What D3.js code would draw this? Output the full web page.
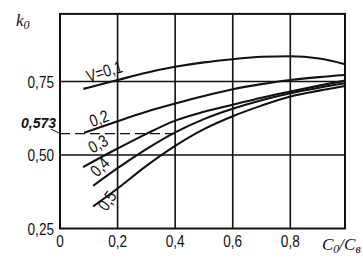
<!DOCTYPE html>
<html><head><meta charset="utf-8">
<script src="https://cdn.jsdelivr.net/npm/d3@7"></script>
<style>
html,body{margin:0;padding:0;background:#fff;}
svg{display:block;}
text{fill:#111;}
</style></head>
<body>
<svg id="c" width="363" height="258"></svg>
<script>
// ---- data ----
const xs1 = [0.081, 0.2, 0.3, 0.4, 0.5, 0.6, 0.7, 0.8, 0.9, 0.99];
const v01 = [0.725, 0.755, 0.780, 0.800, 0.815, 0.826, 0.834, 0.836, 0.828, 0.809];
const xs2 = [0.084, 0.2, 0.3, 0.4, 0.5, 0.6, 0.7, 0.8, 0.9, 0.99];
const v02 = [0.576, 0.615, 0.647, 0.675, 0.701, 0.724, 0.741, 0.755, 0.765, 0.772];
const xs3 = [0.08, 0.2, 0.3, 0.4, 0.5, 0.6, 0.7, 0.8, 0.9, 0.99];
const v03 = [0.459, 0.522, 0.572, 0.617, 0.647, 0.671, 0.695, 0.716, 0.736, 0.753];
const xs4 = [0.115, 0.2, 0.3, 0.4, 0.5, 0.6, 0.7, 0.8, 0.9, 0.99];
const v04 = [0.395, 0.455, 0.520, 0.577, 0.622, 0.657, 0.686, 0.710, 0.729, 0.744];
const xs5 = [0.115, 0.2, 0.3, 0.4, 0.5, 0.6, 0.7, 0.8, 0.9, 0.99];
const v05 = [0.325, 0.386, 0.463, 0.531, 0.588, 0.632, 0.668, 0.699, 0.719, 0.735];
const seriesLabels = ["V=0,1", "0,2", "0,3", "0,4", "0,5"];
const xTicks = [0, 0.2, 0.4, 0.6, 0.8];
const xTickLabels = ["0", "0,2", "0,4", "0,6", "0,8"];
const yTicks = [0.25, 0.50, 0.75];
const yTickLabels = ["0,25", "0,50", "0,75"];
const markValue = 0.573;
const markLabel = "0,573";
const markXEnd = 0.4;

// ---- chart ----
const svg = d3.select("#c");
const x = d3.scaleLinear().domain([0, 0.99]).range([60, 345]);
const y = d3.scaleLinear().domain([0.25, 0.98]).range([228.5, 13.9]);
const ink = "#111";

// grid
svg.append("g").selectAll("line").data(xTicks.slice(1)).join("line")
  .attr("x1", d => x(d)).attr("x2", d => x(d))
  .attr("y1", y(0.98)).attr("y2", y(0.25))
  .attr("stroke", ink).attr("stroke-width", 1.6);
svg.append("g").selectAll("line").data(yTicks.slice(1)).join("line")
  .attr("x1", x(0)).attr("x2", x(0.99))
  .attr("y1", d => y(d)).attr("y2", d => y(d))
  .attr("stroke", ink).attr("stroke-width", 1.4);

// frame
svg.append("rect")
  .attr("x", x(0)).attr("y", y(0.98))
  .attr("width", x(0.99) - x(0)).attr("height", y(0.25) - y(0.98))
  .attr("fill", "none").attr("stroke", ink).attr("stroke-width", 2);

// dashed marker
svg.append("line")
  .attr("x1", x(0)).attr("x2", x(markXEnd))
  .attr("y1", y(markValue)).attr("y2", y(markValue))
  .attr("stroke", ink).attr("stroke-width", 1.3)
  .attr("stroke-dasharray", "10,5");
svg.append("line")
  .attr("x1", x(0) - 9).attr("y1", y(markValue) - 4.5)
  .attr("x2", x(0)).attr("y2", y(markValue))
  .attr("stroke", ink).attr("stroke-width", 1);

// curves
const series = [[xs1, v01], [xs2, v02], [xs3, v03], [xs4, v04], [xs5, v05]];
const line = d3.line().x(d => x(d[0])).y(d => y(d[1])).curve(d3.curveMonotoneX);
svg.append("g").selectAll("path").data(series).join("path")
  .attr("d", s => line(s[0].map((xv, i) => [xv, s[1][i]])))
  .attr("fill", "none").attr("stroke", ink).attr("stroke-width", 2.1);

// narrow text helper
function ntext(px, py, str, opts) {
  const o = Object.assign({size: 17, sx: 0.8, rot: 0, anchor: "middle", weight: "normal", style: "normal", family: "'Liberation Sans', Arial, sans-serif"}, opts || {});
  const g = svg.append("g").attr("transform", `translate(${px},${py}) rotate(${o.rot}) scale(${o.sx},1)`);
  return g.append("text").attr("text-anchor", o.anchor)
    .attr("font-family", o.family).attr("font-size", o.size)
    .attr("font-weight", o.weight).attr("font-style", o.style)
    .text(str);
}

// y tick labels
yTicks.forEach((t, i) => {
  ntext(54, y(t) + 6, yTickLabels[i], {anchor: "end"});
});
// x tick labels
xTicks.forEach((t, i) => {
  ntext(x(t), 247, xTickLabels[i], {anchor: "middle"});
});
// marker label
ntext(56, 127.5, markLabel, {anchor: "end", size: 14, sx: 1, weight: "bold", style: "italic"});

// series labels
const labelPos = [[106, 77, -17], [101, 124, -20], [101, 149, -30], [104, 171, -45], [112, 204, -55]];
seriesLabels.forEach((s, i) => {
  const p = labelPos[i];
  ntext(p[0], p[1], s, {rot: p[2], size: 17, sx: 0.82});
});

// axis titles
const kt = svg.append("text").attr("x", 16).attr("y", 26)
  .attr("font-family", "'Liberation Serif', 'Times New Roman', serif")
  .attr("font-style", "italic").attr("font-size", 17);
kt.append("tspan").text("k");
kt.append("tspan").attr("font-size", 12).attr("dy", 3).text("0");

const ct = svg.append("text").attr("x", 322).attr("y", 250)
  .attr("font-family", "'Liberation Serif', 'Times New Roman', serif")
  .attr("font-style", "italic").attr("font-size", 17);
ct.append("tspan").text("C");
ct.append("tspan").attr("font-size", 12).attr("dy", 3).text("0");
ct.append("tspan").attr("dy", -3).text("/C");
ct.append("tspan").attr("font-size", 12).attr("dy", 3).text("в");
</script>
</body></html>
